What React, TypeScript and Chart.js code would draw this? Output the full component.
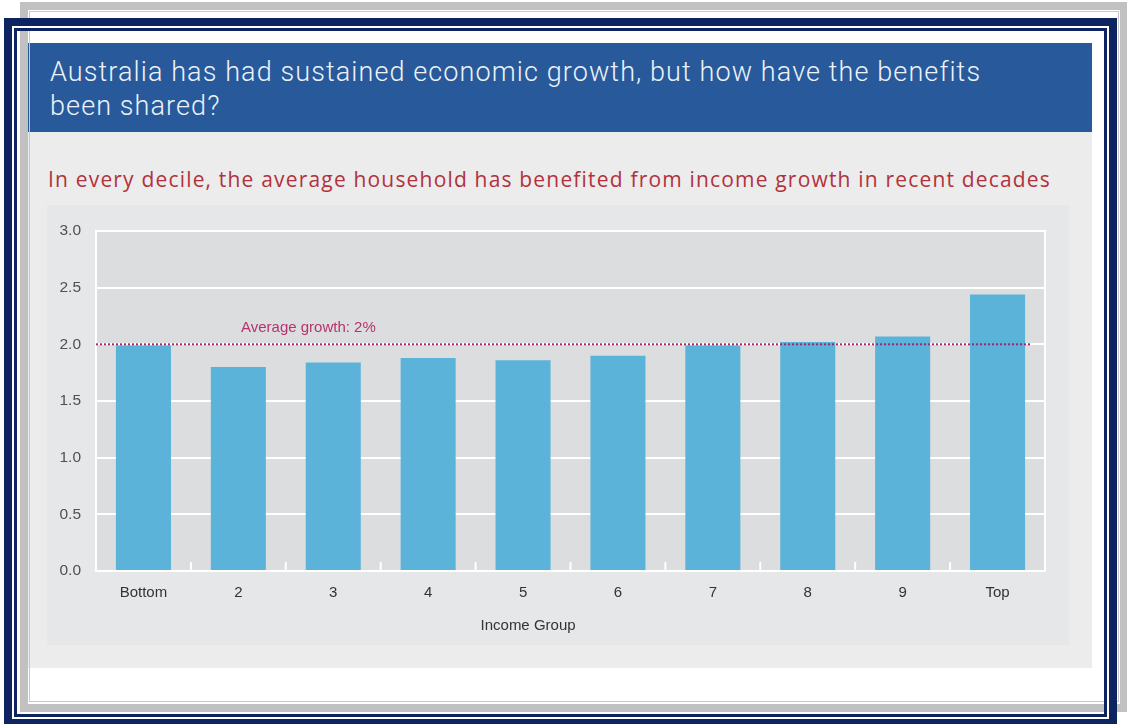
import React, { useEffect, useRef } from "react";
import { Chart, registerables } from "chart.js";

Chart.register(...registerables);

const categories = ["Bottom", "2", "3", "4", "5", "6", "7", "8", "9", "Top"];
const growthValues = [1.99, 1.8, 1.84, 1.88, 1.86, 1.9, 1.99, 2.02, 2.07, 2.44];
const averageGrowth = [2];
const yTicks = [0, 0.5, 1, 1.5, 2, 2.5, 3];

const titleLines = [
  "Australia has had sustained economic growth, but how have the benefits",
  "been shared?",
];
const subtitle =
  "In every decile, the average household has benefited from income growth in recent decades";
const xAxisTitle = "Income Group";

const NARROW = "'Liberation Sans Narrow', 'Liberation Sans', Arial, sans-serif";

const plotDecor = {
  id: "plotDecor",
  beforeDraw(chart: any) {
    const { ctx, chartArea } = chart;
    ctx.save();
    ctx.fillStyle = "#dcdddf";
    ctx.fillRect(chartArea.left, chartArea.top, chartArea.right - chartArea.left, chartArea.bottom - chartArea.top);
    ctx.restore();
  },
  afterDatasetsDraw(chart: any) {
    const { ctx, chartArea, scales } = chart;
    const x = scales.x;
    const y = scales.y;
    ctx.save();
    // frame
    ctx.strokeStyle = "#ffffff";
    ctx.lineWidth = 2;
    ctx.strokeRect(chartArea.left, chartArea.top, chartArea.right - chartArea.left, chartArea.bottom - chartArea.top);
    // boundary tick marks pointing up
    for (let i = 1; i < categories.length; i++) {
      const bx = (x.getPixelForValue(i - 1) + x.getPixelForValue(i)) / 2;
      ctx.beginPath();
      ctx.moveTo(bx, chartArea.bottom);
      ctx.lineTo(bx, chartArea.bottom - 9);
      ctx.stroke();
    }
    // average line
    const ay = y.getPixelForValue(averageGrowth[0]);
    ctx.strokeStyle = "#a3276e";
    ctx.lineWidth = 2;
    ctx.setLineDash([2, 2]);
    ctx.beginPath();
    ctx.moveTo(chartArea.left, ay);
    ctx.lineTo(chartArea.right - 15, ay);
    ctx.stroke();
    ctx.setLineDash([]);
    ctx.fillStyle = "#b8336e";
    ctx.font = "15px " + NARROW;
    ctx.textBaseline = "alphabetic";
    ctx.textAlign = "left";
    ctx.fillText(`Average growth: ${averageGrowth[0]}%`, chartArea.left + 145, ay - 12);
    // x axis title
    ctx.fillStyle = "#333333";
    ctx.textAlign = "center";
    ctx.textBaseline = "middle";
    ctx.fillText(xAxisTitle, x.getPixelForValue(4) + 5, chartArea.bottom + 55);
    ctx.restore();
  },
};

function BarChart() {
  const ref = useRef<HTMLCanvasElement | null>(null);
  useEffect(() => {
    if (!ref.current) return;
    const chart = new Chart(ref.current, {
      type: "bar",
      data: {
        labels: categories,
        datasets: [
          {
            label: "Growth",
            data: growthValues,
            backgroundColor: "#5cb3d9",
            borderWidth: 0,
            categoryPercentage: 1,
            barPercentage: 0.58,
          },
        ],
      },
      options: {
        animation: false,
        responsive: false,
        events: [],
        layout: { padding: { top: 26, right: 24, left: 0, bottom: 0 } },
        plugins: { legend: { display: false }, tooltip: { enabled: false } },
        scales: {
          x: {
            grid: { display: false, drawTicks: false },
            border: { display: false },
            ticks: { color: "#333333", font: { family: NARROW, size: 15 }, padding: 13 },
            afterFit(scale: any) {
              scale.height = 74;
            },
          },
          y: {
            min: yTicks[0],
            max: yTicks[yTicks.length - 1],
            afterBuildTicks(scale: any) {
              scale.ticks = yTicks.map((v) => ({ value: v }));
            },
            grid: { color: "#ffffff", lineWidth: 2, drawTicks: false },
            border: { display: false },
            ticks: {
              color: "#505050",
              font: { family: NARROW, size: 15.5 },
              padding: 15,
              callback: (v: any) => Number(v).toFixed(1),
            },
            afterFit(scale: any) {
              scale.width = 49;
            },
          },
        },
      },
      plugins: [plotDecor],
    });
    return () => chart.destroy();
  }, []);
  return <canvas ref={ref} width={1022} height={440} style={{ display: "block", width: 1022, height: 440 }} />;
}

export default function App() {
  const abs = (l: number, t: number, w: number, h: number, extra: React.CSSProperties = {}): React.CSSProperties => ({
    position: "absolute",
    left: l,
    top: t,
    width: w,
    height: h,
    boxSizing: "border-box",
    ...extra,
  });
  return (
    <div style={{ position: "absolute", left: 0, top: 0, width: 1127, height: 724, overflow: "hidden", background: "#ffffff" }}>
      {/* content panel */}
      <div style={abs(25, 132, 1067, 536, { background: "#ececed" })} />
      <div style={abs(25, 43, 1067, 89, { background: "#285a9b" })} />
      <div
        style={abs(50, 55, 1040, 70, {
          color: "#eef2f8",
          fontFamily: "Roboto, sans-serif",
          fontWeight: 300,
          fontSize: 27,
          letterSpacing: "1.1px",
          lineHeight: "34px",
          whiteSpace: "nowrap",
        })}
      >
        {titleLines[0]}
        <br />
        {titleLines[1]}
      </div>
      <div
        style={abs(48, 165, 1060, 28, {
          color: "#b1323b",
          fontFamily: "'Open Sans', sans-serif",
          fontSize: 21,
          letterSpacing: "1.18px",
          lineHeight: "28px",
          whiteSpace: "nowrap",
        })}
      >
        {subtitle}
      </div>
      <div style={abs(47, 205, 1022, 440, { background: "#e6e7e8" })}>
        <BarChart />
      </div>
      {/* gray frame */}
      <div style={abs(20, 2, 1108, 710, { border: "8px solid #c1c1c1" })}>
        <div style={abs(1, 1, 1090, 691, { border: "1.5px solid #c8c8c8" })} />
      </div>
      {/* navy frame */}
      <div style={abs(4, 18, 1113, 709, { border: "8px solid #0d2461" })}>
        <div style={{ width: "100%", height: "100%", boxSizing: "border-box", border: "2px solid #ffffff" }}>
          <div style={{ width: "100%", height: "100%", boxSizing: "border-box", border: "3px solid #0d2461" }} />
        </div>
      </div>
    </div>
  );
}
